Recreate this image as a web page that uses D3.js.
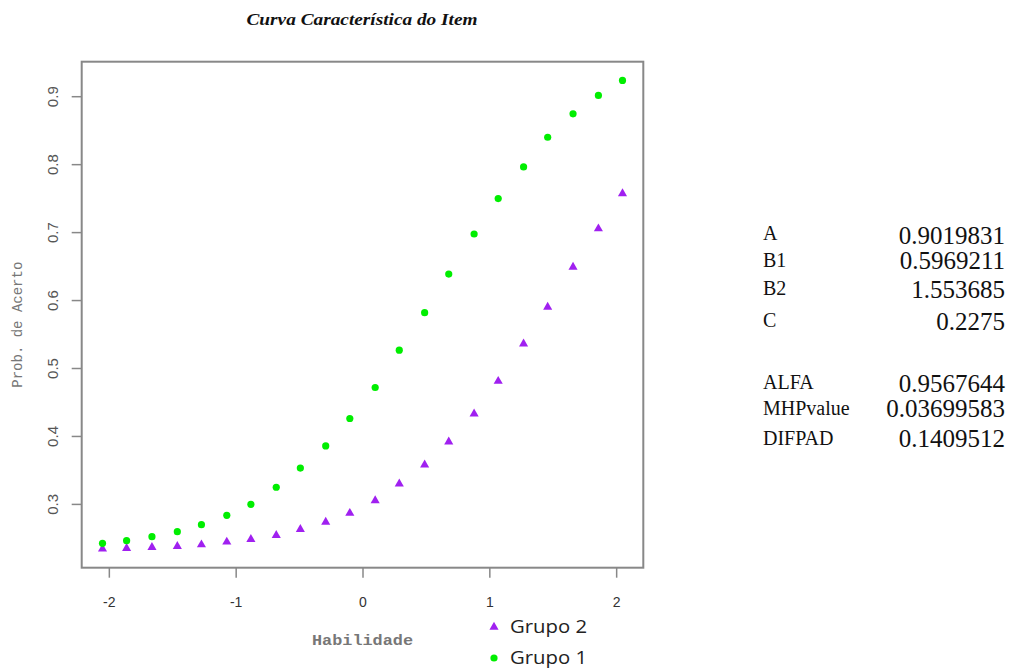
<!DOCTYPE html>
<html>
<head>
<meta charset="utf-8">
<script src="https://cdn.jsdelivr.net/npm/d3@7"></script>
<style>
  html, body { margin: 0; padding: 0; background: #fff; }
  svg { display: block; }
</style>
</head>
<body>
<svg id="chart" width="1010" height="669"></svg>
<script>
// ---- data ----
const theta = [-2.05,-1.86,-1.66,-1.46,-1.27,-1.07,-0.88,-0.68,-0.49,-0.29,-0.10,0.10,0.29,0.49,0.68,0.88,1.07,1.27,1.46,1.66,1.86,2.05];
const grupo1 = [0.2420,0.2459,0.2518,0.2591,0.2695,0.2832,0.2994,0.3245,0.3527,0.3854,0.4257,0.4713,0.5263,0.5814,0.6383,0.6972,0.7493,0.7959,0.8396,0.8740,0.9011,0.9232];
const grupo2 = [0.2337,0.2346,0.2361,0.2375,0.2400,0.2440,0.2478,0.2537,0.2626,0.2732,0.2864,0.3049,0.3295,0.3576,0.3913,0.4326,0.4806,0.5357,0.5896,0.6486,0.7051,0.7567];
const xTicks = [-2,-1,0,1,2];
const yTicks = [0.3,0.4,0.5,0.6,0.7,0.8,0.9];
const legendLabels = ["Grupo 2","Grupo 1"];
const paramNames = ["A","B1","B2","C","","ALFA","MHPvalue","DIFPAD"];
const paramValues = ["0.9019831","0.5969211","1.553685","0.2275","","0.9567644","0.03699583","0.1409512"];
const title = "Curva Característica do Item";
const xLabel = "Habilidade";
const yLabel = "Prob. de Acerto";

const colG1 = "#00ee00";
const colG2 = "#a020f0";

const svg = d3.select("#chart");
const box = {left: 81.7, right: 643.3, top: 61.7, bottom: 567.7};

// R-style 4% extension
function ext(arr) {
  const [a, b] = d3.extent(arr);
  const d = (b - a) * 0.04;
  return [a - d, b + d];
}
const x = d3.scaleLinear().domain(ext(theta)).range([box.left, box.right]);
const y = d3.scaleLinear().domain(ext(grupo1.concat(grupo2))).range([box.bottom, box.top]);

// title
svg.append("text")
  .attr("x", 362).attr("y", 25)
  .attr("text-anchor", "middle")
  .attr("font-family", "Liberation Serif, serif")
  .attr("font-weight", "bold").attr("font-style", "italic")
  .attr("font-size", 16).attr("fill", "#111")
  .attr("textLength", 231).attr("lengthAdjust", "spacingAndGlyphs")
  .text(title);

// axes
const yAxis = svg.append("g")
  .attr("transform", `translate(${box.left},0)`)
  .call(d3.axisLeft(y).tickValues(yTicks).tickSize(10).tickSizeOuter(0).tickFormat(d3.format(".1f")));
yAxis.select(".domain").remove();
yAxis.selectAll(".tick line").attr("stroke", "#888").attr("stroke-width", 1.5);
yAxis.selectAll(".tick text")
  .attr("x", 0).attr("dy", 0)
  .attr("transform", "translate(-24,0) rotate(-90)")
  .attr("text-anchor", "middle")
  .attr("font-family", "Liberation Sans, Arial, sans-serif")
  .attr("font-size", 15).attr("fill", "#555");

const xAxis = svg.append("g")
  .attr("transform", `translate(0,${box.bottom})`)
  .call(d3.axisBottom(x).tickValues(xTicks).tickSize(10).tickSizeOuter(0).tickFormat(d3.format("d")));
xAxis.select(".domain").remove();
xAxis.selectAll(".tick line").attr("stroke", "#888").attr("stroke-width", 1.5);
xAxis.selectAll(".tick text")
  .attr("y", 29).attr("dy", "0.71em")
  .attr("font-family", "Liberation Sans, Arial, sans-serif")
  .attr("font-size", 14).attr("fill", "#333")
  .text(d => d < 0 ? "-" + Math.abs(d) : d);

// box
svg.append("rect")
  .attr("x", box.left).attr("y", box.top)
  .attr("width", box.right - box.left).attr("height", box.bottom - box.top)
  .attr("fill", "none").attr("stroke", "#888").attr("stroke-width", 2);

// axis titles
svg.append("text")
  .attr("transform", `translate(22,${(box.top + box.bottom) / 2 + 10}) rotate(-90)`)
  .attr("text-anchor", "middle")
  .attr("font-family", "Liberation Mono, monospace")
  .attr("font-size", 14).attr("fill", "#777")
  .text(yLabel);

svg.append("text")
  .attr("x", (box.left + box.right) / 2).attr("y", 645)
  .attr("text-anchor", "middle")
  .attr("font-family", "Liberation Mono, monospace")
  .attr("font-weight", "bold")
  .attr("font-size", 14).attr("fill", "#777")
  .attr("textLength", 101).attr("lengthAdjust", "spacingAndGlyphs")
  .text(xLabel);

// points
const pts1 = theta.map((t, i) => ({t, v: grupo1[i]}));
const pts2 = theta.map((t, i) => ({t, v: grupo2[i]}));
const tri = d3.symbol().type(d3.symbolTriangle).size(36);

svg.append("g").selectAll("path").data(pts2).join("path")
  .attr("d", tri)
  .attr("transform", d => `translate(${x(d.t)},${y(d.v)})`)
  .attr("fill", colG2);

svg.append("g").selectAll("circle").data(pts1).join("circle")
  .attr("cx", d => x(d.t)).attr("cy", d => y(d.v))
  .attr("r", 3.6).attr("fill", colG1);

// legend
const lg = svg.append("g");
lg.append("path").attr("d", tri).attr("transform", "translate(494,627)").attr("fill", colG2);
lg.append("circle").attr("cx", 494).attr("cy", 658).attr("r", 3.6).attr("fill", colG1);
legendLabels.forEach((lab, i) => {
  lg.append("text")
    .attr("x", 510).attr("y", 633 + i * 31)
    .attr("font-family", "Open Sans, Noto Sans, sans-serif")
    .attr("font-size", 19).attr("fill", "#222")
    .attr("textLength", 77).attr("lengthAdjust", "spacingAndGlyphs")
    .text(lab);
});

// parameter table
const labelY = [240, 267, 295, 327, 0, 389, 415, 445];
const valueY = [243.5, 269, 298, 329.5, 0, 391.5, 417, 447];
paramNames.forEach((n, i) => {
  if (!n) return;
  svg.append("text")
    .attr("x", 763).attr("y", labelY[i])
    .attr("font-family", "Liberation Serif, serif")
    .attr("font-size", 20).attr("fill", "#111")
    .text(n);
  svg.append("text")
    .attr("x", 1005).attr("y", valueY[i])
    .attr("text-anchor", "end")
    .attr("font-family", "Liberation Serif, serif")
    .attr("font-size", 25).attr("fill", "#111")
    .text(paramValues[i]);
});
</script>
</body>
</html>
